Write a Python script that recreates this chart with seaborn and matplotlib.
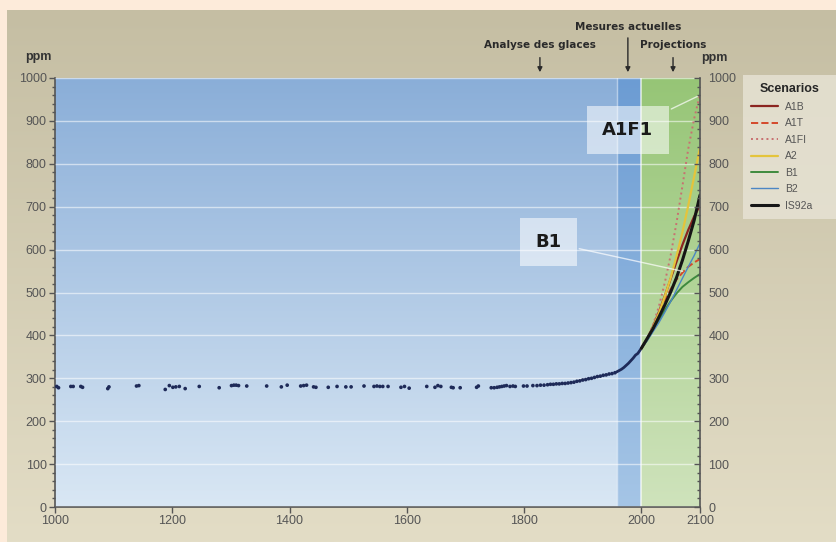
import numpy as np
import pandas as pd
import seaborn as sns
import matplotlib.pyplot as plt
from matplotlib.ticker import MultipleLocator, FixedLocator
from matplotlib.colors import to_rgb

sns.set_theme(style="white")
plt.rcParams['font.family'] = ['Liberation Sans', 'DejaVu Sans']

# ice core measurements (Analyse des glaces)
ice_years = [1003, 1006, 1027, 1031, 1044, 1047, 1090, 1092, 1139, 1143, 1188, 1195,
             1201, 1206, 1212, 1222, 1246, 1280, 1301, 1305, 1309, 1313, 1327, 1361,
             1386, 1396, 1419, 1424, 1429, 1441, 1445, 1466, 1481, 1496, 1505, 1527,
             1544, 1549, 1554, 1559, 1568, 1590, 1596, 1604, 1634, 1648, 1653, 1658,
             1676, 1679, 1691, 1719, 1722, 1744, 1749, 1754, 1758, 1762, 1766, 1770,
             1776, 1781, 1785, 1799, 1805, 1815, 1822, 1828, 1834, 1840, 1845, 1850,
             1855, 1860, 1865, 1870, 1875, 1880, 1885, 1890, 1895, 1900, 1905, 1910,
             1915, 1920, 1925, 1930, 1935, 1940, 1945, 1950, 1955]
ice_ppm = [281, 278, 281, 281, 281, 279, 276, 280, 282, 283, 274, 283,
           279, 280, 281, 276, 281, 278, 283, 284, 284, 283, 282, 282,
           280, 284, 282, 283, 284, 280, 279, 279, 281, 280, 280, 282,
           281, 282, 281, 281, 281, 279, 281, 277, 281, 279, 283, 281,
           279, 278, 278, 279, 282, 278, 278, 279, 280, 281, 282, 283,
           281, 282, 281, 282, 282, 283, 283, 284, 284, 285, 286, 286,
           287, 287, 288, 288, 289, 290, 291, 293, 294, 296, 297, 299,
           300, 302, 304, 305, 307, 308, 310, 311, 313]

# direct measurements (Mesures actuelles)
obs_years = [1958, 1962, 1966, 1970, 1974, 1978, 1982, 1986, 1990, 1994, 1998, 2000]
obs_ppm = [315, 318, 321, 325, 330, 335, 341, 347, 354, 358, 366, 370]

# projections (Scenarios)
proj_years = [2000, 2010, 2020, 2030, 2040, 2050, 2060, 2070, 2080, 2090, 2100]
a1b = [370, 392, 421, 455, 492, 532, 572, 611, 646, 677, 703]
a1t = [370, 391, 418, 449, 480, 508, 530, 546, 560, 570, 578]
a1fi = [370, 393, 425, 468, 523, 587, 663, 748, 835, 905, 962]
a2 = [370, 391, 419, 452, 491, 534, 585, 640, 703, 770, 838]
b1 = [370, 389, 412, 435, 459, 480, 498, 513, 524, 534, 543]
b2 = [370, 388, 409, 430, 454, 479, 506, 533, 560, 586, 615]
is92a = [370, 393, 416, 443, 471, 501, 535, 575, 620, 668, 727]

scenarios = ["A1B", "A1T", "A1FI", "A2", "B1", "B2", "IS92a"]
series = [a1b, a1t, a1fi, a2, b1, b2, is92a]
colors = ["#8B2520", "#D4482B", "#C87070", "#E4C43C", "#3E8A3E", "#4C86C4", "#161616"]
styles = ["-", "--", ":", "-", "-", "-", "-"]
widths = [1.6, 1.4, 1.4, 1.6, 1.4, 1.0, 2.2]

df_ice = pd.DataFrame({"year": ice_years, "ppm": ice_ppm})
df_obs = pd.DataFrame({"year": obs_years, "ppm": obs_ppm})
df_proj = pd.DataFrame({
    "year": proj_years * len(scenarios),
    "ppm": np.concatenate(series),
    "scenario": np.repeat(scenarios, len(proj_years)),
})


def gradient(top, bottom, n=256):
    t = np.linspace(0, 1, n)[:, None]
    c = (1 - t) * np.array(to_rgb(top)) + t * np.array(to_rgb(bottom))
    return c[:, None, :]


fig = plt.figure(figsize=(8.36, 5.42), dpi=100)
fig.patch.set_facecolor("#FDEBDA")

# tan panel
bg = fig.add_axes([7 / 836, 0, 1 - 7 / 836, 1 - 10 / 542])
bg.imshow(gradient("#C5BEA3", "#E3DDC6"), aspect="auto", extent=[0, 1, 0, 1])
bg.set_axis_off()

ax = fig.add_axes([55 / 836, 35 / 542, 645 / 836, 429 / 542])
ax.imshow(gradient("#8AAED8", "#D9E7F4"), aspect="auto", extent=[1000, 1958, 0, 1000], zorder=0)
ax.imshow(gradient("#6C9CD3", "#A5C5E6"), aspect="auto", extent=[1958, 2000, 0, 1000], zorder=0)
ax.imshow(gradient("#96C576", "#CFE3BC"), aspect="auto", extent=[2000, 2100, 0, 1000], zorder=0)
ax.axvline(1958, color="white", lw=1, alpha=0.5, zorder=0.6)
ax.axvline(2000, color="white", lw=1.2, alpha=0.7, zorder=0.6)

sns.scatterplot(data=df_ice, x="year", y="ppm", ax=ax, s=7, color="#1E2A58",
                edgecolor="none", zorder=3)
sns.lineplot(data=df_obs, x="year", y="ppm", ax=ax, color="#1E2A58", lw=2, zorder=3)

for name, col, ls, lw in zip(scenarios, colors, styles, widths):
    sns.lineplot(data=df_proj[df_proj["scenario"] == name], x="year", y="ppm", ax=ax,
                 color=col, linestyle=ls, lw=lw, label=name, zorder=4)

ax.set_xlim(1000, 2100)
ax.set_ylim(0, 1000)
ax.set_xlabel("")
ax.set_ylabel("")
ax.grid(axis="y", color="white", alpha=0.55, lw=1)
ax.set_axisbelow(False)
for s in ["top", "right"]:
    ax.spines[s].set_visible(False)
for s in ["left", "bottom"]:
    ax.spines[s].set_color("#555555")
    ax.spines[s].set_linewidth(1.2)
ax.xaxis.set_major_locator(FixedLocator([1000, 1200, 1400, 1600, 1800, 2000, 2100]))
ax.yaxis.set_major_locator(MultipleLocator(100))
ax.yaxis.set_minor_locator(MultipleLocator(20))
ax.tick_params(axis="both", which="major", direction="out", length=4, width=1,
               color="#555555", labelsize=9, labelcolor="#555555", pad=2,
               left=True, bottom=True)
ax.tick_params(axis="y", which="minor", direction="out", length=2.5, width=1,
               color="#555555", left=True)

ax2 = ax.twinx()
ax2.set_ylim(0, 1000)
ax2.yaxis.set_major_locator(MultipleLocator(100))
ax2.yaxis.set_minor_locator(MultipleLocator(20))
for s in ["top", "left", "bottom"]:
    ax2.spines[s].set_visible(False)
ax2.spines["right"].set_color("#555555")
ax2.spines["right"].set_linewidth(1.2)
ax2.tick_params(axis="y", which="major", direction="in", length=4, width=1,
                color="#555555", labelsize=9, labelcolor="#555555", pad=6, right=True)
ax2.tick_params(axis="y", which="minor", direction="in", length=2.5, width=1,
                color="#555555", right=True)
ax2.grid(False)

fig.text(38 / 836, 1 - 57 / 542, "ppm", fontsize=9, fontweight="bold", color="#333333",
         ha="center", va="center")
fig.text(714 / 836, 1 - 58 / 542, "ppm", fontsize=9, fontweight="bold", color="#333333",
         ha="center", va="center")

# period annotations
top_kw = dict(fontsize=7.5, fontweight="bold", color="#2A2A2A", ha="center", va="center",
              family=["DejaVu Sans"])
arrow_kw = dict(arrowstyle="-|>", color="#2A2A2A", lw=1, mutation_scale=7)
for label, xr, ty, ay in [("Analyse des glaces", 1827, 1.077, 1.054),
                          ("Mesures actuelles", 1977, 1.119, 1.1),
                          ("Projections", 2054, 1.077, 1.054)]:
    ax.text(xr, ty, label, transform=ax.get_xaxis_transform(), **top_kw)
    ax.annotate("", xy=(xr, 1.007), xytext=(xr, ay), xycoords=ax.get_xaxis_transform(),
                textcoords=ax.get_xaxis_transform(), arrowprops=arrow_kw)

# callouts
box = dict(boxstyle="square,pad=0.85", fc="white", ec="none", alpha=0.55)
ax.annotate("A1F1", xy=(2100, 960), xytext=(1977, 879), fontsize=13, fontweight="bold",
            color="#1A1A1A", ha="center", va="center", bbox=box, family=["DejaVu Sans"],
            zorder=5, arrowprops=dict(arrowstyle="-", color="white", alpha=0.7, lw=1))
ax.annotate("B1", xy=(2075, 548), xytext=(1841, 618), fontsize=13, fontweight="bold",
            color="#1A1A1A", ha="center", va="center", bbox=box, family=["DejaVu Sans"],
            zorder=5, arrowprops=dict(arrowstyle="-", color="white", alpha=0.7, lw=1))

h, l = ax.get_legend_handles_labels()
if ax.get_legend():
    ax.get_legend().remove()
leg = fig.legend(h, l, title="Scenarios", loc="upper left",
                 bbox_to_anchor=(743 / 836, 1 - 75 / 542, 93 / 836, 0.0), mode="expand",
                 fontsize=7.5, title_fontproperties={"weight": "bold", "size": 9},
                 frameon=True, fancybox=False, handlelength=2.6, labelspacing=0.62,
                 borderpad=0.8, handletextpad=0.6, borderaxespad=0)
leg.get_frame().set_facecolor("#E8E4D6")
leg.get_frame().set_edgecolor("none")
for t in leg.get_texts():
    t.set_color("#555555")

fig.savefig("out.png", dpi=100, facecolor=fig.get_facecolor())
